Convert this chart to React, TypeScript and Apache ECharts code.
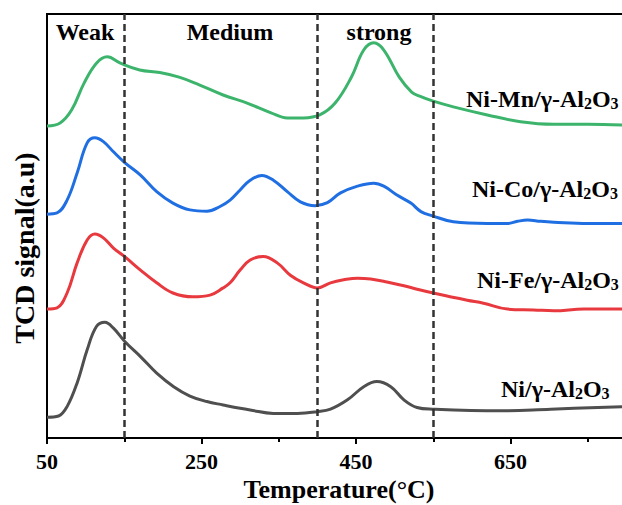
import React, { useEffect, useRef } from "react";
import * as echarts from "echarts";

const FONT = '"Liberation Serif", "Times New Roman", Times, serif';

// x axis (Temperature, °C)
const xMin = 50;
const xMax = 850;
const xInterval = 200;
// acidity region boundaries (dashed lines) and region names
const boundaries = [150, 400, 550];
const regionNames = ["Weak", "Medium", "strong"];

// Ni-Mn/γ-Al2O3
const mnT = [50, 67, 82, 98, 114, 128, 145, 170, 196, 221, 247, 278, 309, 340, 361, 382, 403, 423, 444, 460, 473, 486, 506, 522, 534, 549, 576, 620, 663, 706, 750, 795];
const mnV = [73.6, 74.3, 77.4, 83.7, 88.4, 89.9, 88.4, 86.8, 86.2, 85.1, 83.3, 80.9, 79.0, 76.7, 75.5, 75.5, 76.2, 79.0, 85.1, 91.5, 93.2, 91.5, 85.1, 81.6, 80.5, 79.5, 78.1, 76.2, 74.6, 74.0, 74.0, 73.8];

// Ni-Co/γ-Al2O3
const coT = [50, 63, 76, 89, 102, 112, 123, 136, 151, 171, 192, 213, 235, 257, 274, 287, 300, 313, 328, 343, 361, 378, 397, 413, 430, 452, 473, 486, 503, 521, 534, 549, 576, 620, 646, 659, 672, 689, 706, 750, 795];
const coV = [52.8, 53.1, 56.1, 62.5, 69.6, 70.8, 69.9, 67.5, 64.9, 62.0, 58.1, 55.4, 53.8, 53.5, 54.6, 56.1, 58.5, 60.8, 61.9, 60.8, 58.1, 55.7, 54.8, 55.5, 57.8, 59.4, 60.1, 59.4, 57.3, 55.4, 53.4, 52.4, 51.0, 50.6, 50.6, 51.1, 51.4, 51.1, 50.9, 50.6, 50.6];

// Ni-Fe/γ-Al2O3
const feT = [50, 63, 76, 89, 102, 112, 123, 136, 151, 171, 192, 213, 239, 261, 278, 287, 300, 313, 330, 348, 365, 382, 400, 417, 434, 452, 469, 490, 512, 529, 550, 594, 615, 646, 680, 706, 745, 795];
const feV = [30.4, 30.7, 34.2, 41.3, 46.7, 48.1, 47.2, 44.8, 42.7, 39.6, 36.6, 34.2, 33.3, 33.7, 35.4, 36.6, 39.6, 42.0, 42.8, 41.3, 38.4, 36.6, 35.4, 36.6, 37.3, 37.7, 37.5, 36.8, 35.9, 35.1, 34.2, 32.5, 31.8, 30.4, 30.2, 30.0, 30.4, 30.4];

// Ni/γ-Al2O3
const niT = [50, 65, 76, 89, 102, 114, 125, 136, 151, 171, 192, 214, 235, 257, 278, 300, 313, 343, 374, 400, 417, 439, 460, 477, 495, 512, 529, 549, 637, 702, 795];
const niV = [4.9, 5.2, 7.4, 13.0, 20.8, 26.3, 27.3, 25.9, 22.7, 19.2, 15.3, 12.1, 9.9, 8.6, 7.8, 7.0, 6.6, 5.8, 5.8, 6.2, 6.8, 9.0, 12.1, 13.3, 12.1, 9.0, 7.2, 6.8, 6.4, 6.8, 7.4];

const seriesNames = ["Ni-Mn/γ-Al2O3", "Ni-Co/γ-Al2O3", "Ni-Fe/γ-Al2O3", "Ni/γ-Al2O3"];
const seriesColors = ["#3cb46c", "#1f6fe3", "#e8393f", "#4f4f4f"];
const labelPrefixes = ["Ni-Mn/γ-Al", "Ni-Co/γ-Al", "Ni-Fe/γ-Al", "Ni/γ-Al"];

const zip = (t: number[], v: number[]) => t.map((x, i) => [x, v[i]]);

export default function App() {
  const ref = useRef<HTMLDivElement>(null);

  useEffect(() => {
    document.body.style.margin = "0";
    if (!ref.current) return;
    const chart = echarts.init(ref.current, undefined, { renderer: "svg" });

    const datasets = [zip(mnT, mnV), zip(coT, coV), zip(feT, feV), zip(niT, niV)];

    const labelPos = [
      [466, 99],
      [472, 189],
      [477, 280],
      [501, 389],
    ];
    const regionPos = [85, 230, 379];

    const rich = {
      m: { fontSize: 24, fontWeight: "bold", fontFamily: FONT, fill: "#000", color: "#000" },
      s: { fontSize: 16, fontWeight: "bold", fontFamily: FONT, fill: "#000", color: "#000", verticalAlign: "bottom", lineHeight: 10 },
    };

    const graphic: any[] = [];
    labelPrefixes.forEach((p, i) => {
      graphic.push({
        type: "text",
        x: labelPos[i][0],
        y: labelPos[i][1],
        style: {
          text: `{m|${p}}{s|2}{m|O}{s|3}`,
          rich,
          align: "left",
          verticalAlign: "middle",
        },
      });
    });
    regionNames.forEach((n, i) => {
      graphic.push({
        type: "text",
        x: regionPos[i],
        y: 32,
        style: {
          text: n,
          fontSize: 24,
          fontWeight: "bold",
          fontFamily: FONT,
          fill: "#000",
          align: "center",
          verticalAlign: "middle",
        },
      });
    });
    graphic.push({
      type: "text",
      x: 339,
      y: 489,
      style: {
        text: "Temperature(°C)",
        fontSize: 26,
        fontWeight: "bold",
        fontFamily: FONT,
        fill: "#000",
        align: "center",
        verticalAlign: "middle",
      },
    });
    graphic.push({
      type: "text",
      x: 24,
      y: 248,
      rotation: Math.PI / 2,
      style: {
        text: "TCD signal(a.u)",
        fontSize: 28,
        fontWeight: "bold",
        fontFamily: FONT,
        fill: "#000",
        align: "center",
        verticalAlign: "middle",
      },
    });

    chart.setOption({
      animation: false,
      backgroundColor: "#fff",
      grid: {
        left: 47,
        width: 618,
        top: 14,
        height: 424,
        show: true,
        borderColor: "#000",
        borderWidth: 2,
        backgroundColor: "transparent",
        containLabel: false,
      },
      xAxis: {
        type: "value",
        min: xMin,
        max: xMax,
        interval: xInterval,
        axisLine: { show: true, onZero: false, lineStyle: { color: "#000", width: 2 } },
        axisTick: { show: true, length: 6, lineStyle: { color: "#000", width: 2 } },
        minorTick: { show: true, splitNumber: 2, length: 4, lineStyle: { color: "#000", width: 2 } },
        axisLabel: {
          color: "#000",
          fontFamily: FONT,
          fontWeight: "bold",
          fontSize: 22,
          margin: 12,
          showMaxLabel: false,
        },
        splitLine: { show: false },
        minorSplitLine: { show: false },
      },
      yAxis: {
        type: "value",
        min: 0,
        max: 100,
        axisLine: { show: true, lineStyle: { color: "#000", width: 2 } },
        axisTick: { show: false },
        axisLabel: { show: false },
        splitLine: { show: false },
      },
      series: datasets.map((d, i) => ({
        name: seriesNames[i],
        type: "line",
        data: d,
        smooth: 0.4,
        showSymbol: false,
        symbol: "none",
        lineStyle: { color: seriesColors[i], width: 3 },
        itemStyle: { color: seriesColors[i] },
        z: 3,
        markLine:
          i === 3
            ? {
                silent: true,
                symbol: "none",
                label: { show: false },
                lineStyle: { color: "#333", type: [7, 4], width: 2.5 },
                data: boundaries.map((b) => ({ xAxis: b })),
              }
            : undefined,
      })),
      graphic,
    });

    return () => chart.dispose();
  }, []);

  return (
    <div
      style={{
        width: 622,
        height: 505,
        position: "absolute",
        left: 0,
        top: 0,
        overflow: "hidden",
        background: "#fff",
      }}
    >
      <div ref={ref} style={{ width: 700, height: 505 }} />
    </div>
  );
}
